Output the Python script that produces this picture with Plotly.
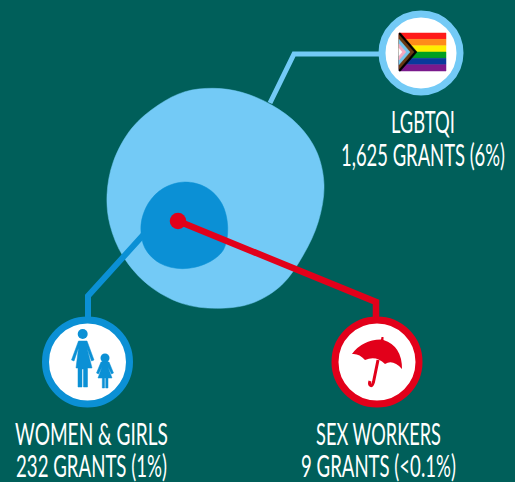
import math
import json
import plotly.graph_objects as go

# ---- data
categories = ["LGBTQI", "WOMEN & GIRLS", "SEX WORKERS"]
grants = [1625, 232, 9]
value_labels = ["1,625 GRANTS (6%)", "232 GRANTS (1%)", "9 GRANTS (<0.1%)"]

# ---- colours
BG = "#005f5a"
LIGHT = "#73caf6"
MID = "#0b90d5"
RED = "#e2001a"

# ---- outlines (px in the 515x482 frame)
blob_x = [213.3, 241.7, 271.7, 298.3, 316.7, 324, 318.3, 303.3, 281.7, 251.7, 216.7, 181.7, 148.3, 123.3, 110, 107, 113.3, 131.7, 158.3, 185]
blob_y = [88.3, 92.3, 105, 125, 151.7, 185, 221.7, 255, 285, 303.3, 308.3, 303.3, 285, 256.7, 225, 195, 161.7, 128.3, 105, 91.7]
mid_x = [185, 206.7, 221.7, 227.7, 223.3, 206.7, 182.3, 160, 145, 141, 148.3, 163.3]
mid_y = [182, 187.7, 203.3, 226.7, 250, 263.3, 268.7, 263.3, 248.3, 225, 203.3, 188.3]
lead_l_x, lead_l_y = [270, 294, 385], [103, 54, 54]
lead_w_x, lead_w_y = [145, 88, 88], [233, 296, 322]
lead_s_x, lead_s_y = [178, 376, 376], [221, 302, 322]
badge_x, badge_y = [421, 87.5, 377], [53, 362, 362]
label_x = [423, 91.5, 378.5]
name_y = [126, 438, 438]
value_y = [159, 470, 470]
name_w = [64, 153, 125]
value_w = [164, 151, 155]
flag_colours = ["#ff1a1a", "#ff8c1a", "#ffee00", "#00a020", "#0a3a9c", "#7b1a8c"]
flag_left, flag_right, flag_top, flag_bottom = 399, 446, 33, 71

fig = go.Figure()


def poly(xs, ys, colour, smooth=False, name=""):
    fig.add_trace(go.Scatter(
        x=xs + xs[:1], y=ys + ys[:1], mode="lines", fill="toself",
        fillcolor=colour,
        line=dict(color=colour, width=0.5, shape="spline" if smooth else "linear",
                  smoothing=1.0),
        hoverinfo="skip", name=name, showlegend=False))


def line(xs, ys, colour, width):
    fig.add_trace(go.Scatter(x=xs, y=ys, mode="lines",
                             line=dict(color=colour, width=width),
                             hoverinfo="skip", showlegend=False))


poly(blob_x, blob_y, LIGHT, True, categories[0])
poly(mid_x, mid_y, MID, True, categories[1])
line(lead_l_x, lead_l_y, LIGHT, 5)
line(lead_w_x, lead_w_y, MID, 6)
line(lead_s_x, lead_s_y, RED, 6.5)

# red dot scaled with the same sqrt(grants) rule as the blobs
fig.add_trace(go.Scatter(x=[178], y=[221], mode="markers",
                         marker=dict(size=5.5 * math.sqrt(grants[2]), color=RED, opacity=1),
                         hoverinfo="skip", showlegend=False, name=categories[2]))

# badges
fig.add_trace(go.Scatter(
    x=badge_x, y=badge_y, mode="markers",
    marker=dict(size=[78, 84, 84], color="white", opacity=1,
                line=dict(color=[LIGHT, MID, RED], width=7)),
    hoverinfo="skip", showlegend=False))

# flag
h = (flag_bottom - flag_top) / len(flag_colours)
for i, c in enumerate(flag_colours):
    t, b = flag_top + i * h, flag_top + (i + 1) * h
    poly([flag_left, flag_right, flag_right, flag_left], [t, t, b, b], c)
cy = (flag_top + flag_bottom) / 2
for tip, c in [(417, "#000000"), (414, "#6b3a12"), (410, "#74c7ee"), (406, "#f5a9c0"), (402, "#ffffff")]:
    d = tip - flag_left
    top = max(flag_top, cy - d * 1.15)
    bot = min(flag_bottom, cy + d * 1.15)
    back = flag_left + max(0, d - (cy - flag_top) / 1.15)
    poly([flag_left, back, tip, back, flag_left], [top, top, cy, bot, bot], c)

# woman
w_head = (82.7, 334, 5)
woman_x = [78.5, 87, 94, 91.5, 87, 92, 87.5, 87.5, 83.5, 83.5, 82, 82, 78, 78, 76, 78.5, 74, 71.5]
woman_y = [341, 341, 360, 361, 348, 368, 368, 387, 387, 369, 369, 387, 387, 368, 368, 348, 361, 360]
poly(woman_x, woman_y, MID)
# girl
g_head = (105, 358, 4.5)
girl_x = [101, 109, 113.5, 111.5, 108, 112, 108, 108, 105.7, 105.7, 104.5, 104.5, 102.3, 102.3, 98, 102, 98.5, 96.5]
girl_y = [362, 362, 373, 374, 367, 378, 378, 388, 388, 378, 378, 388, 388, 378, 378, 367, 374, 373]
poly(girl_x, girl_y, MID)
for hx, hy, hr in [w_head, g_head]:
    fig.add_shape(type="circle", x0=hx - hr, x1=hx + hr, y0=hy - hr, y1=hy + hr,
                  fillcolor=MID, line_width=0)

# umbrella
fig.add_shape(type="path", fillcolor=RED, line_width=0,
              path="M 352 354 Q 362 340 381 339.5 L 381.5 337 L 383.5 337 L 383.5 340 "
                   "Q 402 346 402 369 Q 393 359 385 364 Q 376 355 365 360 Q 359 353 352 354 Z")
fig.add_shape(type="path", line=dict(color=RED, width=3),
              path="M 378 360 L 373.5 382 Q 372 387 370 385 Q 369 384 370 381")

# text
texts = categories + value_labels
fig.add_trace(go.Scatter(
    x=label_x + label_x, y=name_y + value_y, mode="text", cliponaxis=False,
    text=texts, textposition="middle center",
    textfont=dict(family="Lato", size=30, color="white"),
    hoverinfo="skip", showlegend=False))

fig.update_layout(
    width=515, height=482, margin=dict(l=0, r=0, t=0, b=0),
    paper_bgcolor=BG, plot_bgcolor=BG, showlegend=False,
    xaxis=dict(range=[0, 515], visible=False, fixedrange=True),
    yaxis=dict(range=[482, 0], visible=False, fixedrange=True),
)
# the original face is a condensed one: squeeze the real text to its measured width
widths = dict(zip(texts, name_w + value_w))
post = """
document.body.style.margin='0';document.body.style.background='%s';
var W=%s;
document.querySelectorAll('.textpoint text').forEach(function(t){
  var w=W[t.textContent]; if(!w) return;
  var x=parseFloat(t.getAttribute('x')), k=w/t.getComputedTextLength();
  t.setAttribute('transform','translate('+x+',0) scale('+k+',1) translate('+(-x)+',0)');
});
""" % (BG, json.dumps(widths))
fig.write_html("out.html", config={"displayModeBar": False}, post_script=post)
